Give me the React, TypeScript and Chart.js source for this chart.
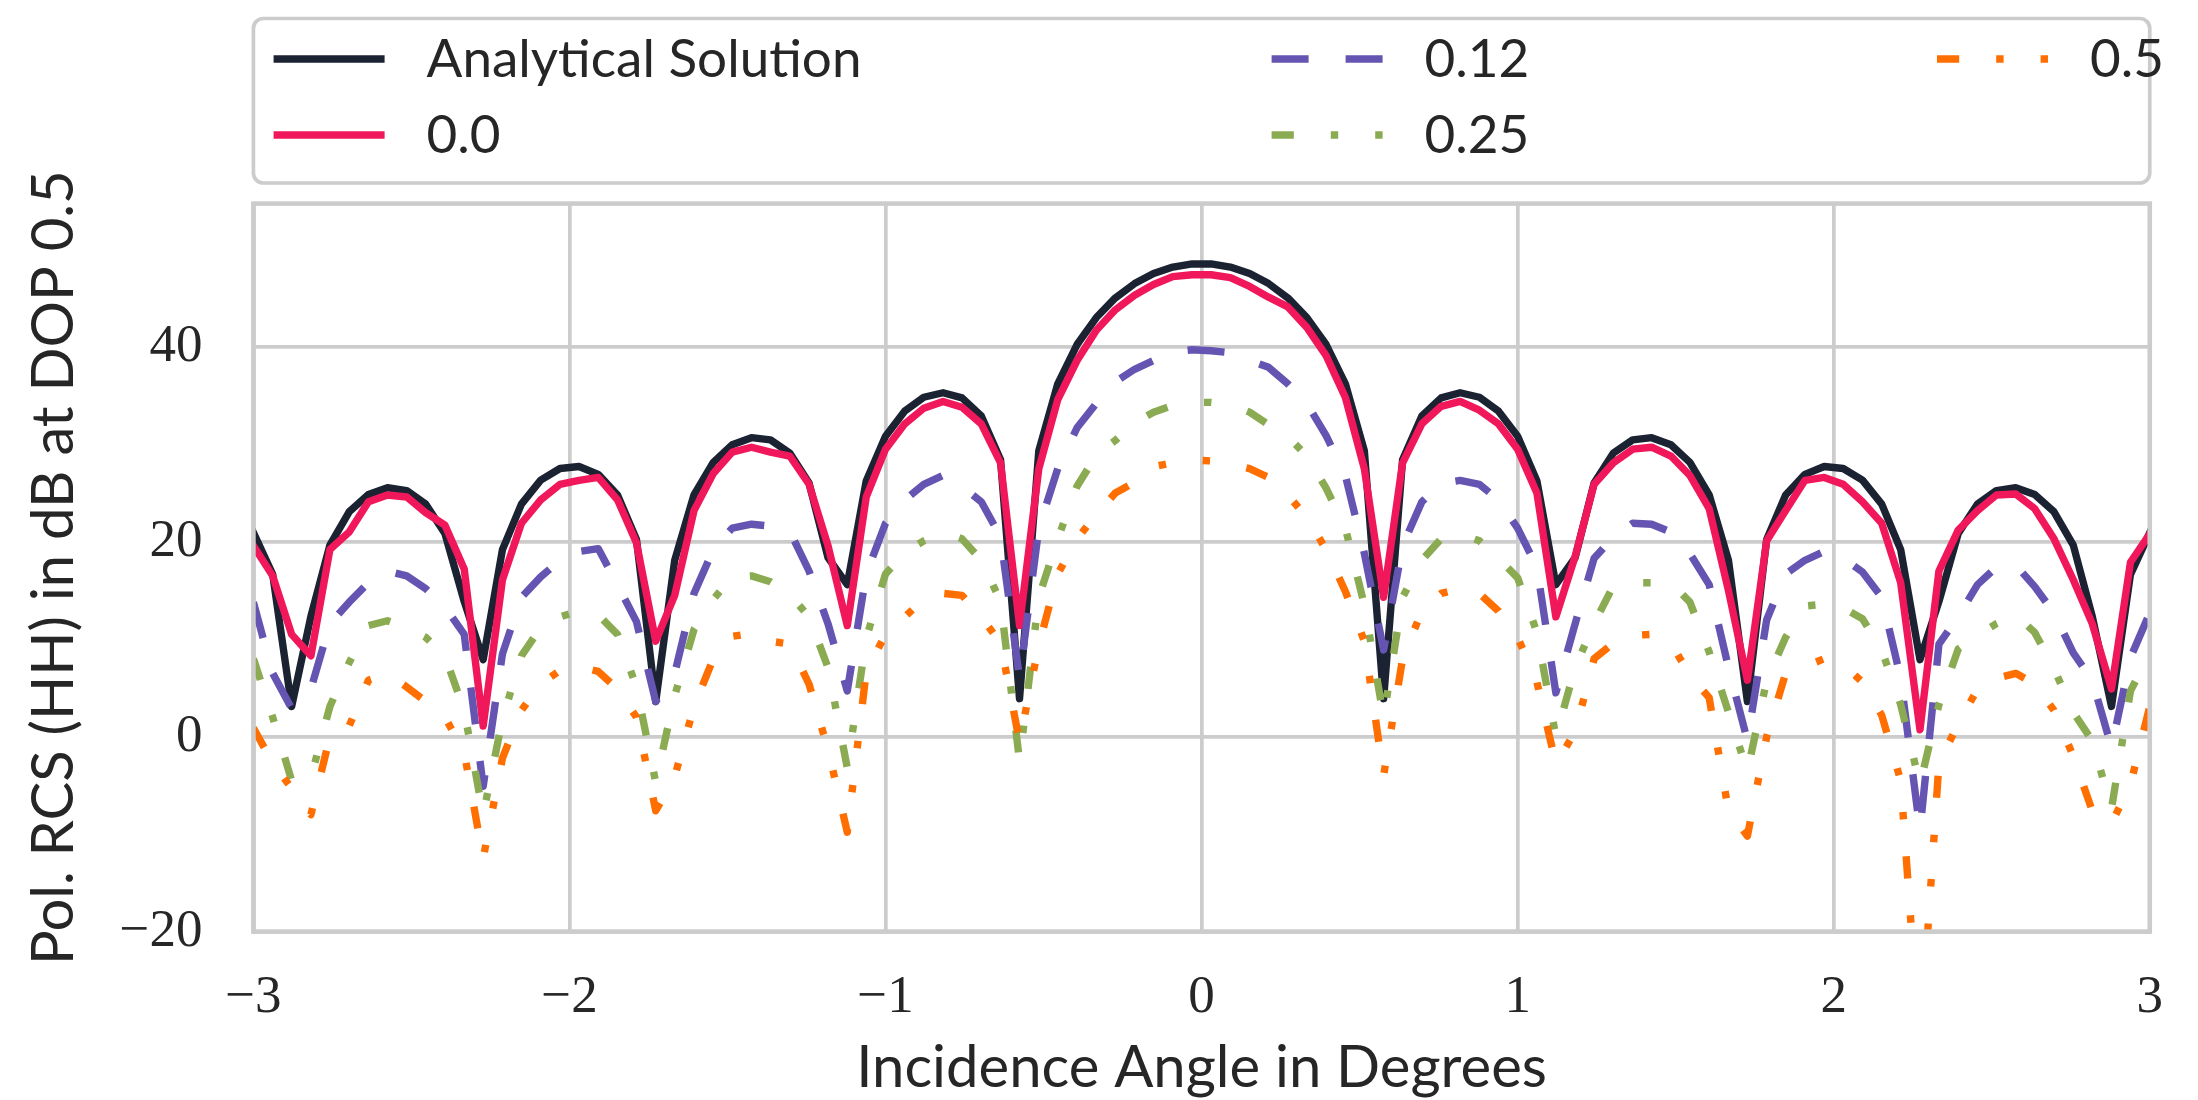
import { useEffect, useRef } from "react";
import { Chart, registerables } from "chart.js";

Chart.register(...registerables);

// Incidence angles in degrees (100 samples from -3 to 3)
const ANGLES = [
  -3.0, -2.939, -2.879, -2.818, -2.758, -2.697, -2.636, -2.576, -2.515, -2.455,
  -2.394, -2.333, -2.273, -2.212, -2.152, -2.091, -2.03, -1.97, -1.909, -1.848,
  -1.788, -1.727, -1.667, -1.606, -1.545, -1.485, -1.424, -1.364, -1.303, -1.242,
  -1.182, -1.121, -1.061, -1.0, -0.939, -0.879, -0.818, -0.758, -0.697, -0.636,
  -0.576, -0.515, -0.455, -0.394, -0.333, -0.273, -0.212, -0.152, -0.091, -0.03,
  0.03, 0.091, 0.152, 0.212, 0.273, 0.333, 0.394, 0.455, 0.515, 0.576,
  0.636, 0.697, 0.758, 0.818, 0.879, 0.939, 1.0, 1.061, 1.121, 1.182,
  1.242, 1.303, 1.364, 1.424, 1.485, 1.545, 1.606, 1.667, 1.727, 1.788,
  1.848, 1.909, 1.97, 2.03, 2.091, 2.152, 2.212, 2.273, 2.333, 2.394,
  2.455, 2.515, 2.576, 2.636, 2.697, 2.758, 2.818, 2.879, 2.939, 3.0,
];

// Polarimetric RCS (HH) in dB
const ANALYTICAL = [
  20.94, 16.66, 3.1, 12.36, 19.66, 23.07, 24.86, 25.54, 25.25, 23.87,
  20.84, 13.88, 7.9, 19.2, 23.86, 26.32, 27.52, 27.72, 26.92, 24.8,
  20.25, 3.6, 18.1, 24.82, 28.15, 29.95, 30.68, 30.46, 29.11, 26.03,
  18.38, 15.6, 26.25, 30.84, 33.42, 34.83, 35.29, 34.76, 32.9, 28.41,
  3.9, 29.33, 36.21, 40.24, 43.01, 45.02, 46.49, 47.53, 48.19, 48.51,
  48.51, 48.19, 47.53, 46.49, 45.02, 43.01, 40.24, 36.21, 29.33, 3.9,
  28.41, 32.9, 34.76, 35.29, 34.83, 33.42, 30.84, 26.25, 15.6, 18.38,
  26.03, 29.11, 30.46, 30.68, 29.95, 28.15, 24.82, 18.1, 3.6, 20.25,
  24.8, 26.92, 27.72, 27.52, 26.32, 23.86, 19.2, 7.9, 13.88, 20.84,
  23.87, 25.25, 25.54, 24.86, 23.07, 19.66, 12.36, 3.1, 16.66, 20.94,
];

const DOP_0_0 = [
  19.6, 16.5, 10.5, 8.3, 19.2, 21.0, 24.1, 24.8, 24.6, 23.0,
  21.7, 17.2, 1.1, 16.1, 21.9, 24.3, 25.9, 26.3, 26.6, 24.3,
  19.9, 9.8, 14.5, 23.2, 27.0, 29.2, 29.7, 29.2, 28.8, 25.9,
  19.6, 11.4, 24.6, 29.5, 32.1, 33.7, 34.4, 33.8, 32.1, 28.1,
  11.4, 27.5, 34.6, 38.6, 41.7, 43.8, 45.3, 46.4, 47.2, 47.4,
  47.4, 47.1, 46.2, 45.1, 44.1, 42.0, 39.1, 34.8, 27.5, 14.3,
  28.1, 32.1, 33.9, 34.4, 33.5, 32.1, 29.5, 25.0, 12.3, 18.5,
  25.9, 28.1, 29.5, 29.7, 28.8, 26.8, 23.4, 15.0, 5.8, 20.1,
  23.2, 26.3, 26.6, 25.9, 24.1, 21.9, 15.8, 0.7, 17.0, 21.2,
  23.2, 24.8, 24.9, 23.4, 20.3, 16.1, 11.6, 4.9, 17.9, 20.8,
];

const DOP_0_12 = [
  13.8, 6.5, 2.9, 4.9, 11.6, 13.8, 15.8, 17.0, 16.5, 15.2,
  13.3, 10.5, -5.1, 8.5, 14.3, 16.4, 18.1, 19.0, 19.3, 15.6,
  11.8, 3.6, 6.5, 14.7, 19.2, 21.4, 21.8, 21.6, 21.1, 17.0,
  11.6, 4.7, 16.7, 21.9, 24.3, 25.9, 26.8, 25.7, 24.1, 20.5,
  6.0, 21.4, 27.5, 31.7, 34.2, 36.4, 37.7, 38.6, 39.5, 39.7,
  39.6, 39.4, 38.6, 37.9, 36.2, 34.2, 30.9, 26.8, 18.8, 8.9,
  19.6, 24.1, 26.0, 26.3, 25.9, 24.3, 21.4, 17.4, 4.5, 11.6,
  18.3, 20.5, 21.9, 21.8, 21.0, 18.8, 15.6, 7.1, -0.4, 12.0,
  16.7, 18.1, 19.0, 18.3, 16.9, 14.3, 6.0, -9.6, 9.5, 12.3,
  15.6, 17.4, 17.6, 15.4, 12.7, 8.6, 5.8, -1.1, 8.1, 12.7,
];

const DOP_0_25 = [
  8.0, 2.0, -4.5, -4.2, 3.1, 7.6, 11.4, 11.9, 11.2, 10.2,
  8.3, 2.7, -8.0, 1.8, 8.3, 11.2, 12.3, 12.9, 12.5, 10.5,
  5.1, -4.7, 4.2, 11.0, 14.1, 16.4, 16.5, 15.9, 14.6, 12.3,
  7.1, -3.2, 10.1, 16.7, 18.9, 20.1, 21.0, 20.3, 18.1, 13.9,
  -2.5, 14.3, 20.3, 25.7, 28.9, 30.4, 32.2, 33.3, 34.0, 34.3,
  34.3, 34.1, 33.3, 32.0, 30.8, 28.8, 25.5, 21.4, 13.5, 2.0,
  14.3, 18.1, 20.3, 20.8, 20.1, 18.3, 16.3, 10.7, 0.0, 7.1,
  11.6, 15.5, 15.8, 15.8, 15.8, 13.8, 8.7, 2.5, -3.6, 5.8,
  10.2, 13.4, 13.6, 13.2, 12.1, 8.9, 3.3, -4.9, 3.3, 9.0,
  10.4, 11.6, 12.5, 10.7, 7.0, 2.5, -0.4, -7.4, 4.7, 8.5,
];

const DOP_0_5 = [
  0.9, -2.7, -5.3, -8.0, 0.0, 1.1, 5.8, 6.5, 5.1, 3.6,
  2.0, -1.6, -12.5, -2.2, 2.7, 5.4, 6.8, 7.2, 6.7, 4.9,
  2.0, -7.6, -4.1, 3.1, 8.0, 10.3, 10.6, 9.8, 9.5, 5.4,
  -1.3, -9.8, 6.7, 10.5, 12.3, 14.1, 14.7, 14.5, 12.3, 9.6,
  -0.5, 9.4, 16.7, 20.3, 22.8, 25.0, 26.1, 27.7, 28.1, 28.4,
  28.3, 28.0, 27.5, 26.6, 24.8, 22.5, 19.2, 14.9, 9.8, -4.0,
  8.0, 12.9, 14.7, 15.2, 14.7, 12.9, 10.2, 5.6, -2.8, 0.5,
  8.0, 9.6, 10.4, 10.5, 9.6, 6.3, 4.0, -7.6, -10.2, 0.0,
  6.5, 7.2, 8.0, 7.4, 5.6, 2.2, -4.5, -32.0, -2.7, 1.3,
  4.9, 6.0, 6.5, 5.4, 2.7, -2.0, -7.6, -8.9, -4.9, 3.1,
];

const SERIES_LABELS = ["Analytical Solution", "0.0", "0.12", "0.25", "0.5"];
const SERIES_VALUES = [ANALYTICAL, DOP_0_0, DOP_0_12, DOP_0_25, DOP_0_5];

const X_TICKS = [-3, -2, -1, 0, 1, 2, 3];
const Y_TICKS = [-20, 0, 20, 40];
const X_LIMITS = [-3, 3];
const Y_LIMITS = [-20, 54.7];

const X_TITLE = "Incidence Angle in Degrees";
const Y_TITLE = "Pol. RCS (HH) in dB at DOP 0.5";

// Styling
const SANS = "Lato, 'Open Sans', sans-serif";
const SERIF = "'Liberation Serif', 'DejaVu Serif', serif";
const INK = "#262626";
const GRID = "#cccccc";
const LW = 7.4;

const STYLES = [
  { color: "#1b2232", dash: [] as number[] },
  { color: "#f0175a", dash: [] as number[] },
  { color: "#6554b1", dash: [37, 37] },
  { color: "#8bab52", dash: [22.2, 37, 7.4, 37] },
  { color: "#ff6e00", dash: [22.2, 37, 7.4, 37, 7.4, 37] },
];

const fmtTick = (v: number) => (v < 0 ? "\u2212" + Math.abs(v) : String(v));

// Grey frame around the plotting area, drawn above the curves
const framePlugin = {
  id: "axesFrame",
  afterDatasetsDraw(chart: any) {
    const { ctx, chartArea: a } = chart;
    ctx.save();
    ctx.strokeStyle = GRID;
    ctx.lineWidth = 4.6;
    ctx.setLineDash([]);
    ctx.strokeRect(a.left, a.top, a.right - a.left, a.bottom - a.top);
    ctx.restore();
  },
};

// Three-column legend box spanning the width of the plot
const legendPlugin = {
  id: "columnLegend",
  afterDraw(chart: any) {
    const { ctx, chartArea: a } = chart;
    const top = 18.5;
    const bottom = 183;
    const r = 10;
    const l = a.left;
    const rt = a.right;
    ctx.save();
    ctx.beginPath();
    ctx.moveTo(l + r, top);
    ctx.lineTo(rt - r, top);
    ctx.arcTo(rt, top, rt, top + r, r);
    ctx.lineTo(rt, bottom - r);
    ctx.arcTo(rt, bottom, rt - r, bottom, r);
    ctx.lineTo(l + r, bottom);
    ctx.arcTo(l, bottom, l, bottom - r, r);
    ctx.lineTo(l, top + r);
    ctx.arcTo(l, top, l + r, top, r);
    ctx.closePath();
    ctx.fillStyle = "#ffffff";
    ctx.fill();
    ctx.lineWidth = 3.7;
    ctx.strokeStyle = GRID;
    ctx.stroke();

    const colX = [l + 20.2, l + 1018.2, l + 1683.6];
    const rowY = [59, 135];
    chart.data.datasets.forEach((ds: any, i: number) => {
      const x = colX[Math.floor(i / 2)];
      const y = rowY[i % 2];
      ctx.beginPath();
      ctx.setLineDash(ds.borderDash || []);
      ctx.lineDashOffset = 0;
      ctx.lineCap = "butt";
      ctx.strokeStyle = ds.borderColor;
      ctx.lineWidth = LW;
      ctx.moveTo(x, y);
      ctx.lineTo(x + 111, y);
      ctx.stroke();
      ctx.setLineDash([]);
      ctx.fillStyle = INK;
      ctx.font = `53px ${SANS}`;
      ctx.textAlign = "left";
      ctx.textBaseline = "alphabetic";
      ctx.fillText(ds.label, x + 153, y + 18);
    });
    ctx.restore();
  },
};

export default function App() {
  const canvasRef = useRef<HTMLCanvasElement | null>(null);

  useEffect(() => {
    const canvas = canvasRef.current;
    if (!canvas) return;

    const datasets = SERIES_LABELS.map((label, s) => ({
      label,
      data: ANGLES.map((x, i) => ({ x, y: SERIES_VALUES[s][i] })),
      borderColor: STYLES[s].color,
      backgroundColor: STYLES[s].color,
      borderWidth: LW,
      borderDash: STYLES[s].dash,
      borderCapStyle: STYLES[s].dash.length ? "butt" : "square",
      borderJoinStyle: "round",
      pointRadius: 0,
      tension: 0,
      fill: false,
      clip: 0,
      order: SERIES_LABELS.length - s,
    }));

    const chart = new Chart(canvas, {
      type: "line",
      data: { datasets } as any,
      plugins: [framePlugin, legendPlugin],
      options: {
        animation: false,
        responsive: false,
        devicePixelRatio: 1,
        layout: { padding: { top: 203.6, right: 16.1, bottom: 0, left: 0 } },
        plugins: { legend: { display: false }, tooltip: { enabled: false } },
        scales: {
          x: {
            type: "linear",
            min: X_LIMITS[0],
            max: X_LIMITS[1],
            afterBuildTicks: (scale: any) => {
              scale.ticks = X_TICKS.map((value) => ({ value }));
            },
            afterFit: (scale: any) => {
              scale.height = 168.4;
            },
            grid: { color: GRID, lineWidth: 3.7, drawTicks: false },
            border: { display: false },
            ticks: {
              color: INK,
              font: { family: SERIF, size: 53 },
              padding: 35,
              maxRotation: 0,
              autoSkip: false,
              callback: (v: any) => fmtTick(Number(v)),
            },
            title: {
              display: true,
              text: X_TITLE,
              color: INK,
              font: { family: SANS, size: 58, lineHeight: 1 },
              padding: { top: 0, bottom: 3 },
            },
          },
          y: {
            type: "linear",
            min: Y_LIMITS[0],
            max: Y_LIMITS[1],
            afterBuildTicks: (scale: any) => {
              scale.ticks = Y_TICKS.map((value) => ({ value }));
            },
            afterFit: (scale: any) => {
              scale.width = 253.4;
            },
            grid: { color: GRID, lineWidth: 3.7, drawTicks: false },
            border: { display: false },
            ticks: {
              color: INK,
              font: { family: SERIF, size: 53 },
              padding: 51,
              autoSkip: false,
              callback: (v: any) => fmtTick(Number(v)),
            },
            title: {
              display: true,
              text: Y_TITLE,
              color: INK,
              font: { family: SANS, size: 58, lineHeight: 1 },
              padding: { top: 25.6, bottom: 0 },
            },
          },
        },
      } as any,
    });

    return () => chart.destroy();
  }, []);

  return (
    <div style={{ position: "absolute", left: 0, top: 0, width: 2198, height: 1100, background: "#ffffff" }}>
      <canvas ref={canvasRef} width={2198} height={1100} style={{ width: 2198, height: 1100, display: "block" }} />
    </div>
  );
}
